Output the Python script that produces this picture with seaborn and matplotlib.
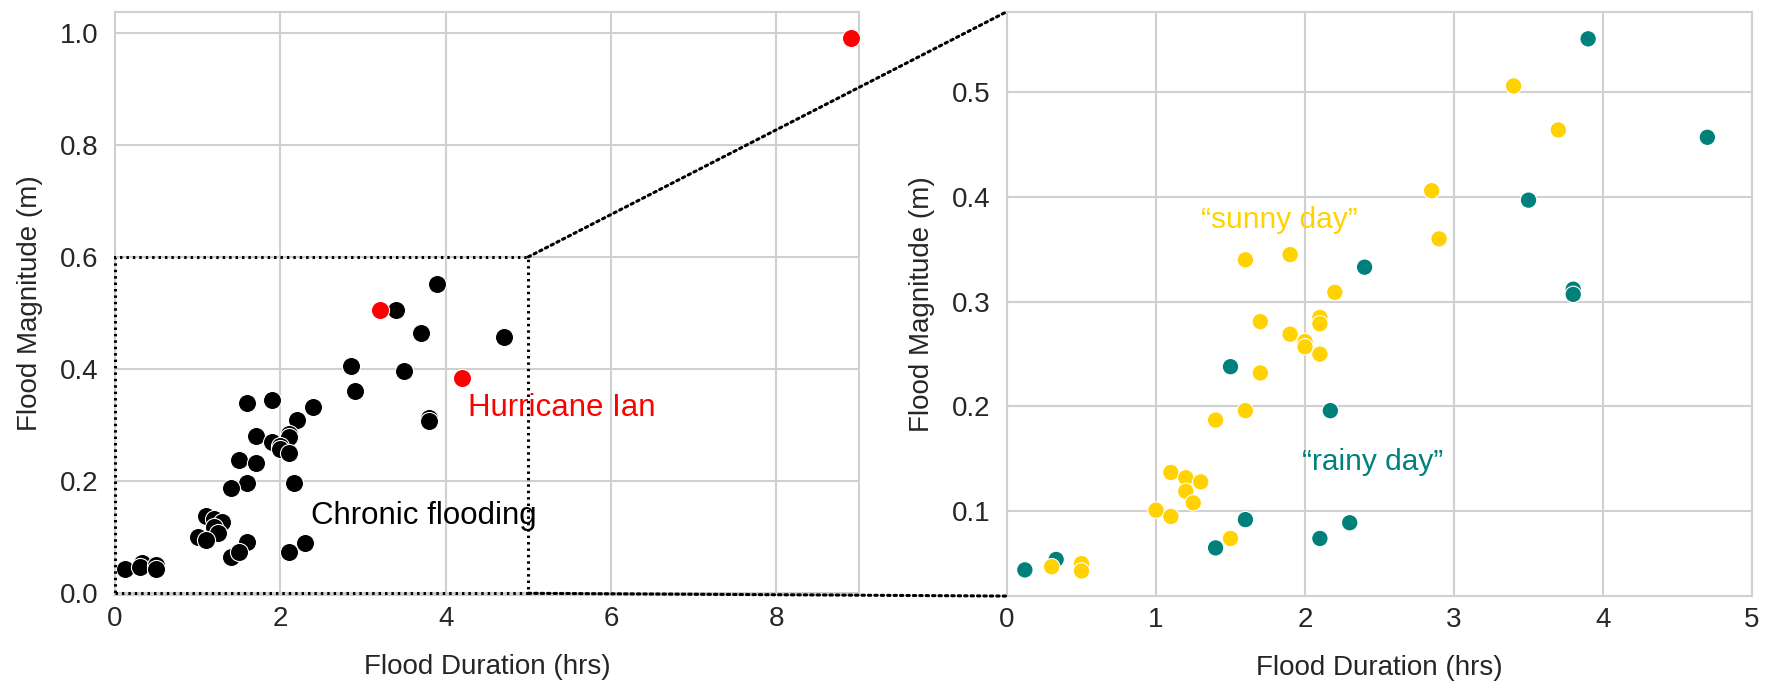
#%%

import numpy as np
import pandas as pd
import seaborn as sns
import matplotlib.pyplot as plt
from matplotlib.patches import Rectangle, ConnectionPatch

sns.set_theme(style="whitegrid")
plt.rcParams["font.family"] = ["Liberation Sans", "DejaVu Sans"]

# "sunny day" floods (hrs, m)
sunny_dur = [3.4, 3.7, 2.85, 2.9, 1.6, 1.9, 2.2, 1.7, 2.1, 2.1, 1.9, 2.0, 2.0, 2.1,
             1.7, 1.6, 1.4, 1.1, 1.2, 1.3, 1.2, 1.25, 1.0, 1.1, 1.5, 0.3, 0.5, 0.5]
sunny_mag = [0.506, 0.464, 0.406, 0.360, 0.340, 0.345, 0.309, 0.281, 0.285, 0.279, 0.269, 0.262, 0.257, 0.250,
             0.232, 0.196, 0.187, 0.137, 0.132, 0.128, 0.119, 0.108, 0.101, 0.095, 0.074, 0.047, 0.050, 0.043]

# "rainy day" floods
rainy_dur = [3.9, 4.7, 3.5, 2.4, 3.8, 3.8, 1.5, 2.17, 1.6, 1.4, 2.1, 2.3, 0.12, 0.33]
rainy_mag = [0.551, 0.457, 0.397, 0.333, 0.312, 0.307, 0.238, 0.196, 0.092, 0.065, 0.074, 0.089, 0.044, 0.054]

# Hurricane Ian
ian_dur = [3.2, 4.2, 8.9]
ian_mag = [0.505, 0.384, 0.991]

sunny_col = "#FFD200"
rainy_col = "#00807A"

df = pd.DataFrame({
    "dur": rainy_dur + sunny_dur,
    "mag": rainy_mag + sunny_mag,
    "kind": ["rainy"] * len(rainy_dur) + ["sunny"] * len(sunny_dur),
})
ian = pd.DataFrame({"dur": ian_dur, "mag": ian_mag})

fig = plt.figure(figsize=(17.66, 6.82), dpi=100)
ax1 = fig.add_axes([0.0651, 0.1276, 0.4213, 0.855])
ax2 = fig.add_axes([0.5702, 0.126, 0.4219, 0.857])

dots = (0, (0.8, 1.3))

# left: all events
sns.scatterplot(data=df, x="dur", y="mag", color="black", s=170, edgecolor="white",
                linewidth=0.8, ax=ax1, zorder=3)
sns.scatterplot(data=ian, x="dur", y="mag", color="red", s=170, edgecolor="white",
                linewidth=0.8, ax=ax1, zorder=3)
ax1.set_xlim(0, 9)
ax1.set_ylim(-0.003, 1.037)
ax1.set_xticks([0, 2, 4, 6, 8])
ax1.set_yticks([0.0, 0.2, 0.4, 0.6, 0.8, 1.0])
ax1.text(2.37, 0.137, "Chronic flooding", fontsize=22.5, color="black", va="center")
ax1.text(4.27, 0.33, "Hurricane Ian", fontsize=22.5, color="red", va="center")

ax1.add_patch(Rectangle((0, 0), 5, 0.6, fill=False, ls=dots, lw=2.2,
                        color="black", clip_on=False, zorder=4))

# right: zoom on events below 5 hrs
sns.scatterplot(data=df, x="dur", y="mag", hue="kind",
                palette={"rainy": rainy_col, "sunny": sunny_col},
                s=140, edgecolor="white", linewidth=0.8, legend=False, ax=ax2, zorder=3)
ax2.set_xlim(0, 5)
ax2.set_ylim(0.019, 0.577)
ax2.set_yticks([0.1, 0.2, 0.3, 0.4, 0.5])
ax2.text(1.3, 0.378, "\u201csunny day\u201d", fontsize=21.5, color=sunny_col, va="center")
ax2.text(1.98, 0.147, "\u201crainy day\u201d", fontsize=21.5, color=rainy_col, va="center")

for ax in (ax1, ax2):
    ax.set_xlabel("Flood Duration (hrs)", fontsize=20, labelpad=16)
    ax.set_ylabel("Flood Magnitude (m)", fontsize=20, labelpad=12)
    ax.tick_params(axis="x", labelsize=20, pad=8, length=0)
    ax.tick_params(axis="y", labelsize=20, pad=12, length=0)
    ax.grid(True, color="#d0d0d0", lw=1.5)
    for sp in ax.spines.values():
        sp.set_color("#d0d0d0")
        sp.set_linewidth(1.5)

for xy_a, xy_b in [((5, 0.6), (0, 1)), ((5, 0), (0, 0))]:
    con = ConnectionPatch(xyA=xy_a, coordsA=ax1.transData, xyB=xy_b, coordsB=ax2.transAxes,
                          ls=dots, lw=2.2, color="black", zorder=5)
    fig.add_artist(con)

plt.savefig("out.png", dpi=100)
plt.close()
